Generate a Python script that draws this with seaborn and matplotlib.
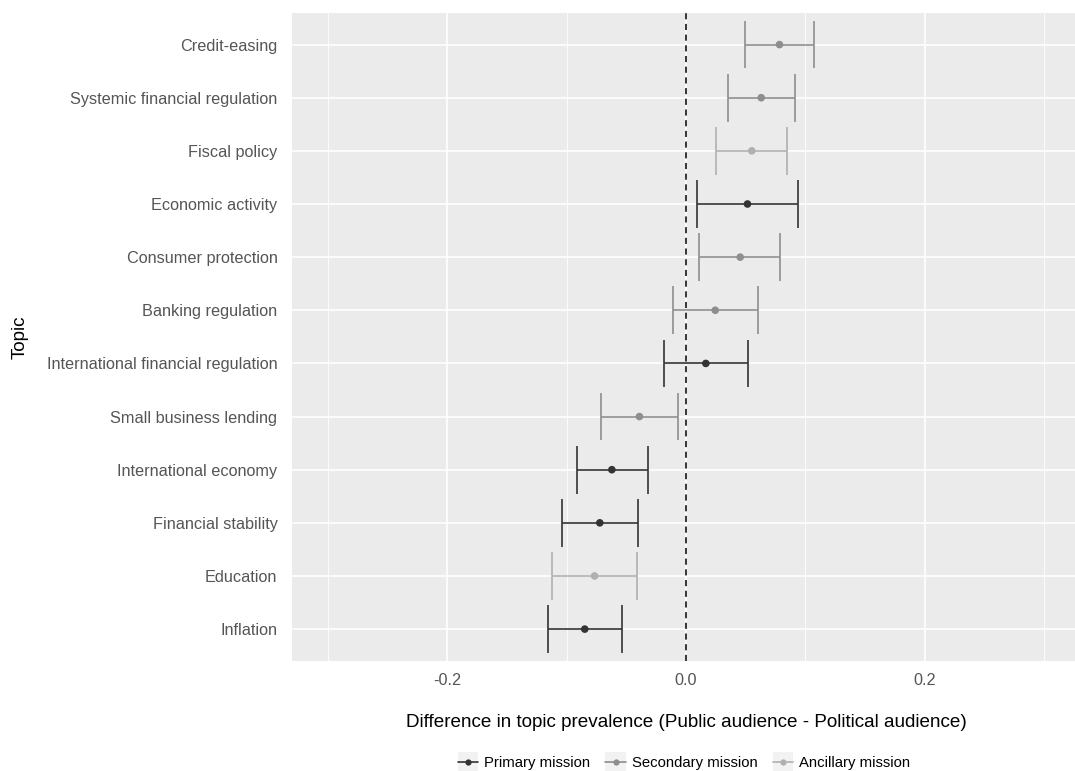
import matplotlib
matplotlib.use("Agg")
import matplotlib.pyplot as plt
import seaborn as sns
import pandas as pd
import numpy as np
from matplotlib.lines import Line2D
from matplotlib.patches import Rectangle
from matplotlib.legend_handler import HandlerLine2D

topics = ["Credit-easing", "Systemic financial regulation", "Fiscal policy",
          "Economic activity", "Consumer protection", "Banking regulation",
          "International financial regulation", "Small business lending",
          "International economy", "Financial stability", "Education", "Inflation"]
mission = ["Secondary mission", "Secondary mission", "Ancillary mission",
           "Primary mission", "Secondary mission", "Secondary mission",
           "Primary mission", "Secondary mission", "Primary mission",
           "Primary mission", "Ancillary mission", "Primary mission"]
estimate = [0.0783, 0.063, 0.0551, 0.0515, 0.0454, 0.0245,
            0.0166, -0.039, -0.0621, -0.0722, -0.0766, -0.0848]
lower = [0.0496, 0.035, 0.0255, 0.0096, 0.0113, -0.0113,
         -0.0183, -0.0716, -0.0915, -0.104, -0.1124, -0.116]
upper = [0.1074, 0.0915, 0.085, 0.0934, 0.0791, 0.0607,
         0.0518, -0.0063, -0.0322, -0.0406, -0.0412, -0.054]
mission_levels = ["Primary mission", "Secondary mission", "Ancillary mission"]
x_ticks = [-0.2, 0.0, 0.2]

palette = {"Primary mission": "#333333", "Secondary mission": "#8E8E8E",
           "Ancillary mission": "#B0B0B0"}

df = pd.DataFrame({"topic": topics, "mission": mission, "est": estimate,
                   "lo": lower, "hi": upper})
df["pos"] = np.arange(len(df))

sns.set_theme(style="darkgrid")
plt.rcParams["font.family"] = ["Liberation Sans", "DejaVu Sans"]

fig = plt.figure(figsize=(10.75, 7.71), dpi=100)
W, H = 1075, 771
ax = fig.add_axes([292 / W, 1 - 661 / H, (1080 - 292) / W, (661 - 12.7) / H])
ax.set_facecolor("#EBEBEB")

# error bars
for _, r in df.iterrows():
    c = palette[r["mission"]]
    ax.hlines(r["pos"], r["lo"], r["hi"], color=c, lw=1.2, zorder=3)
    ax.vlines([r["lo"], r["hi"]], r["pos"] - 0.45, r["pos"] + 0.45, color=c, lw=1.2, zorder=3)

sns.scatterplot(data=df, x="est", y="pos", hue="mission", hue_order=mission_levels,
                palette=palette, s=30, edgecolor="none", legend=False, ax=ax, zorder=4)

ax.axvline(0, color="black", lw=1.1, ls=(0, (4, 3)), zorder=2)

ax.set_xlim(-0.33, 0.33)
ax.set_ylim(len(df) - 1 + 0.6, -0.6)
ax.set_xticks(x_ticks)
ax.set_xticklabels(["-0.2", "0.0", "0.2"])
ax.set_xticks([-0.3, -0.1, 0.1, 0.3], minor=True)
ax.set_yticks(df["pos"])
ax.set_yticklabels(topics)

ax.grid(which="major", color="white", lw=1.2)
ax.grid(which="minor", axis="x", color="white", lw=0.6)
ax.set_axisbelow(True)
for s in ax.spines.values():
    s.set_visible(False)

ax.tick_params(axis="both", which="major", length=3.5, width=0.8, color="#333333",
               labelcolor="#555555", labelsize=11.7)
ax.tick_params(axis="y", which="major", pad=7)
ax.tick_params(axis="x", which="major", pad=5)
ax.tick_params(axis="x", which="minor", length=0)

ax.set_xlabel("Difference in topic prevalence (Public audience - Political audience)",
              fontsize=13.6, color="black", labelpad=19)
ax.set_ylabel("Topic", fontsize=13.6, color="black", labelpad=13)


class KeyHandler(HandlerLine2D):
    def create_artists(self, legend, orig_handle, xdescent, ydescent, width, height,
                       fontsize, trans):
        rect = Rectangle((-xdescent, -ydescent - 3), width, height + 6,
                         facecolor="#F2F2F2", edgecolor="none", transform=trans)
        arts = super().create_artists(legend, orig_handle, xdescent, ydescent,
                                      width, height, fontsize, trans)
        return [rect] + list(arts)


handles = [Line2D([0], [0], color=palette[m], lw=1.2, marker="o", markersize=4.5,
                  markeredgewidth=0) for m in mission_levels]
leg = fig.legend(handles, mission_levels, loc="center", bbox_to_anchor=(684 / W, 1 - 763 / H),
                 ncol=3, frameon=False, fontsize=10.7, handlelength=1.4,
                 handletextpad=0.4, columnspacing=1.0,
                 handler_map={Line2D: KeyHandler()})
for t in leg.get_texts():
    t.set_color("black")

fig.savefig("out.png", dpi=100)
